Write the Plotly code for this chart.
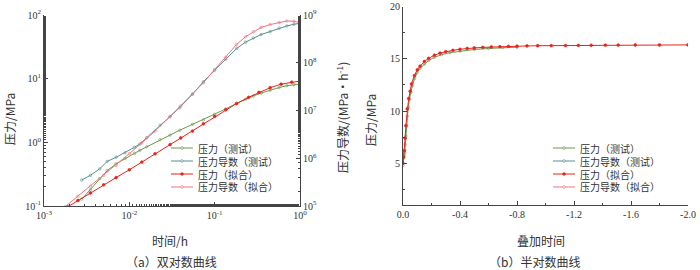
import plotly.graph_objects as go

# ---------------- data: (a) log-log ----------------
t_test = [0.00277, 0.0035, 0.0045, 0.0055, 0.0070, 0.0089, 0.0115, 0.0133, 0.016, 0.0229, 0.030, 0.039,
          0.055, 0.0737, 0.10, 0.135, 0.1815, 0.23, 0.284, 0.35, 0.447, 0.57, 0.70, 0.85, 1.0]
p_test = [0.128, 0.18, 0.27, 0.36, 0.46, 0.555, 0.67, 0.75, 0.85, 1.10, 1.30, 1.55,
          1.92, 2.25, 2.75, 3.35, 4.1, 4.75, 5.35, 5.95, 6.6, 7.25, 7.75, 8.05, 8.2]
d_test = [3.5e5, 4.4e5, 6.0e5, 8.6e5, 1.05e6, 1.3e6, 1.7e6, 2.0e6, 2.7e6, 4.9e6, 7.4e6, 1.15e7,
          2.2e7, 4.0e7, 7.0e7, 1.2e8, 2.0e8, 2.7e8, 3.3e8, 3.9e8, 4.5e8, 5.3e8, 5.9e8, 6.4e8, 6.7e8]

t_fit = [0.0019, 0.0025, 0.0035, 0.005, 0.007, 0.01, 0.014, 0.02, 0.03, 0.04, 0.055, 0.0737,
         0.10, 0.135, 0.18, 0.25, 0.33, 0.447, 0.6, 0.8, 1.0]
p_fit = [0.097, 0.122, 0.16, 0.215, 0.28, 0.37, 0.49, 0.66, 0.92, 1.17, 1.5, 1.95,
         2.55, 3.25, 4.05, 5.1, 6.1, 7.2, 8.2, 8.8, 9.16]
t_dfit = [0.00176, 0.0025, 0.0035, 0.005, 0.007, 0.01, 0.014, 0.02, 0.03, 0.04, 0.055, 0.0737,
          0.10, 0.135, 0.18, 0.23, 0.284, 0.35, 0.447, 0.57, 0.70, 0.85, 1.0]
d_fit = [9.6e4, 1.6e5, 2.6e5, 4.4e5, 7.1e5, 1.25e6, 2.1e6, 3.7e6, 7.5e6, 1.25e7, 2.2e7, 3.8e7,
         7.2e7, 1.3e8, 2.4e8, 3.5e8, 4.47e8, 5.5e8, 6.3e8, 7.0e8, 7.5e8, 7.4e8, 6.9e8]

# ---------------- data: (b) semi-log ----------------
s_test = [0.0, -0.003, -0.008, -0.012, -0.016, -0.02, -0.025, -0.03, -0.037, -0.045, -0.055, -0.065,
          -0.08, -0.10, -0.12, -0.15, -0.18, -0.22, -0.27, -0.33, -0.40, -0.50, -0.60, -0.70, -0.80]
ps_test = [4.8, 5.5, 5.8, 6.0, 6.8, 7.6, 8.6, 9.5, 10.4, 11.1, 11.8, 12.4,
           13.1, 13.7, 14.1, 14.5, 14.85, 15.15, 15.4, 15.6, 15.75, 15.9, 16.0, 16.08, 16.12]
s_fit = [0.0, -0.005, -0.01, -0.015, -0.02, -0.03, -0.04, -0.05, -0.06, -0.08, -0.10, -0.12, -0.15,
         -0.18, -0.22, -0.26, -0.30, -0.35, -0.40, -0.45, -0.50, -0.56, -0.62, -0.68, -0.74, -0.80,
         -0.87, -0.945, -1.04, -1.14, -1.23, -1.32, -1.42, -1.51, -1.63, -1.80, -2.0]
ps_fit = [5.0, 5.6, 6.2, 7.4, 8.6, 10.2, 11.2, 11.9, 12.6, 13.4, 13.95, 14.3, 14.75,
          15.05, 15.35, 15.55, 15.7, 15.82, 15.92, 16.0, 16.05, 16.1, 16.14, 16.17, 16.2, 16.22,
          16.24, 16.26, 16.27, 16.28, 16.29, 16.3, 16.31, 16.32, 16.33, 16.33, 16.34]

names = ["压力（测试）", "压力导数（测试）", "压力（拟合）", "压力导数（拟合）"]
colors = ["#6b9a4e", "#5a8f8c", "#e8231d", "#f5727e"]

x_ticks_a = [0.001, 0.01, 0.1, 1]
x_text_a = ["10<sup>-3</sup>", "10<sup>-2</sup>", "10<sup>-1</sup>", "10<sup>0</sup>"]
y_ticks_a = [0.1, 1, 10, 100]
y_text_a = ["10<sup>-1</sup>", "10<sup>0</sup>", "10<sup>1</sup>", "10<sup>2</sup>"]
y2_ticks_a = [1e5, 1e6, 1e7, 1e8, 1e9]
y2_text_a = ["10<sup>5</sup>", "10<sup>6</sup>", "10<sup>7</sup>", "10<sup>8</sup>", "10<sup>9</sup>"]
x_ticks_b = [0.0, -0.4, -0.8, -1.2, -1.6, -2.0]
x_text_b = ["0.0", "-0.4", "-0.8", "-1.2", "-1.6", "-2.0"]
y_ticks_b = [5, 10, 15, 20]

NUM = "Liberation Serif, Noto Sans CJK SC"
CJK = "Noto Sans CJK SC"
AX = "#444"
TXT = "#333"
W, H = 700, 270

fig = go.Figure()


def add(x, y, i, xa, ya, msym, msize):
    fig.add_trace(go.Scatter(
        x=x, y=y, name=names[i], mode="lines+markers", xaxis=xa, yaxis=ya, showlegend=False,
        line=dict(color=colors[i], width=1),
        marker=dict(color=colors[i], size=msize, symbol=msym, line=dict(width=0.6, color=colors[i]))))


add(t_test, p_test, 0, "x", "y", "circle-open", 2.5)
add(t_test, d_test, 1, "x", "y2", "circle-open", 2.5)
add(t_fit, p_fit, 2, "x", "y", "circle", 2.8)
add(t_dfit, d_fit, 3, "x", "y2", "circle-open", 2.5)

add(s_test, ps_test, 0, "x2", "y3", "circle-open", 2.5)
add(s_fit, ps_fit, 2, "x2", "y3", "circle", 2.8)

# ---------------- hand-drawn legends (plotly's row height is too tall) ----------------
shapes = []
annotations = []
legend_rows = [148, 161, 174, 187]


def legend(x_line0, x_line1, x_text):
    for i, yy in enumerate(legend_rows):
        yp = 1 - yy / H
        shapes.append(dict(type="line", xref="paper", yref="paper",
                           x0=x_line0 / W, x1=x_line1 / W, y0=yp, y1=yp,
                           line=dict(color=colors[i], width=1)))
        xm = (x_line0 + x_line1) / 2
        r = 1.3
        shapes.append(dict(type="circle", xref="paper", yref="paper",
                           x0=(xm - r) / W, x1=(xm + r) / W, y0=yp - r / H, y1=yp + r / H,
                           line=dict(color=colors[i], width=0.7),
                           fillcolor=colors[i] if i == 2 else "white"))
        annotations.append(dict(text=names[i], x=x_text / W, y=yp, xref="paper", yref="paper",
                                xanchor="left", yanchor="middle", showarrow=False, borderpad=0,
                                font=dict(family=CJK, size=10, color=TXT)))


legend(171, 193, 197)
legend(553, 575, 579)

tfont = dict(family=CJK, size=12, color=TXT)


def label(text, x, y, angle=0, size=12):
    annotations.append(dict(text=text, x=x / W, y=1 - y / H, xref="paper", yref="paper",
                            xanchor="center", yanchor="middle", showarrow=False, borderpad=0,
                            textangle=angle, font=dict(family=CJK, size=size, color=TXT)))


label("（a）双对数曲线", 171, 261)
label("（b）半对数曲线", 534, 261)
label("时间/h", 170, 240)
label("叠加时间", 541, 240)
label("压力/MPa", 9, 119, -90)
label("压力导数/(MPa•h<sup>-1</sup>)", 342, 118, -90)
label("压力/MPa", 370, 120, -90)

common = dict(showline=True, linecolor=AX, linewidth=1, showgrid=False, zeroline=False,
              ticks="inside", tickcolor=AX, ticklen=4, automargin=False,
              ticklabeloverflow="allow",
              tickfont=dict(family=NUM, size=10, color=TXT))

fig.update_layout(
    width=W, height=H,
    margin=dict(l=0, r=0, t=0, b=0),
    paper_bgcolor="white", plot_bgcolor="white",
    showlegend=False,
    hovermode=False,
    xaxis=dict(type="log", range=[-3, 0], domain=[44 / W, 300 / W], anchor="y",
               tickvals=x_ticks_a, ticktext=x_text_a,
               minor=dict(ticks="inside", ticklen=2, tickcolor=AX),
               **common),
    yaxis=dict(type="log", range=[-1, 2], domain=[1 - 206 / H, 1 - 15 / H], anchor="x",
               tickvals=y_ticks_a, ticktext=y_text_a,
               minor=dict(ticks="inside", ticklen=2, tickcolor=AX),
               **common),
    yaxis2=dict(type="log", range=[5, 9], overlaying="y", side="right", anchor="x",
                tickvals=y2_ticks_a, ticktext=y2_text_a,
                minor=dict(ticks="inside", ticklen=2, tickcolor=AX),
                **common),
    xaxis2=dict(range=[0, -2.0], domain=[403 / W, 688 / W], anchor="y3",
                tickvals=x_ticks_b, ticktext=x_text_b,
                minor=dict(ticks="inside", ticklen=2, tickcolor=AX, dtick=0.2),
                **common),
    yaxis3=dict(range=[1, 20], domain=[1 - 205 / H, 1 - 6.7 / H], anchor="x2",
                tickvals=y_ticks_b,
                minor=dict(ticks="inside", ticklen=2, tickcolor=AX, dtick=2.5),
                **common),
    shapes=shapes,
    annotations=annotations,
)

# the page's default 8px body margin would shift the 700x270 figure; remove it
fig.write_html("out.html", config={"displayModeBar": False, "staticPlot": True},
               post_script="document.body.style.margin='0px';")
